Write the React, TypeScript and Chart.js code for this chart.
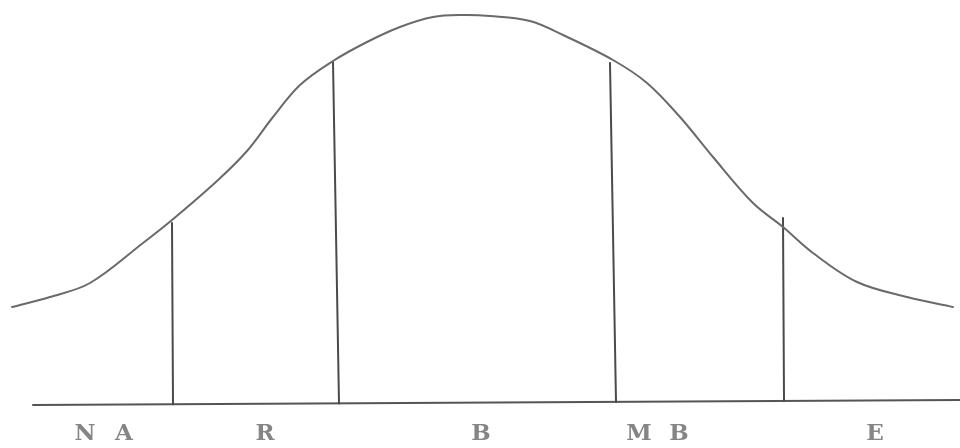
import React, { useEffect, useRef } from "react";
import { Chart, registerables } from "chart.js";

Chart.register(...registerables);

// Bell curve (position along scale, height above baseline)
const curveX = [12, 50, 90, 143, 172, 217, 247, 273, 300, 333, 367, 400, 433, 463, 490, 530, 563, 613, 647, 680, 713, 753, 783, 813, 857, 907, 953];
const curveY = [96, 106, 120, 160, 183, 222, 252, 286, 318, 342, 361, 376, 386, 388, 387, 382, 368, 343, 320, 286, 246, 200, 176, 150, 121, 106, 96];

// Dividers (top point and bottom point)
const dividerTopX = [172, 333, 610, 783];
const dividerTopY = [180, 341, 340, 185];
const dividerBottomX = [173, 339, 616, 784];
const dividerBottomY = [-1.2, -0.4, 1.1, 2.0];

// Baseline
const baselineX = [33, 960];
const baselineY = [-2, 3];

// Category labels below the baseline
const labelText = ["N", "A", "R", "B", "M", "B", "E"];
const labelX = [85, 124, 265, 481, 639, 679, 875];
const labelY = -31.5;

export default function App() {
  const ref = useRef<HTMLCanvasElement | null>(null);

  useEffect(() => {
    const canvas = ref.current;
    if (!canvas) return;

    const datasets: any[] = [];
    datasets.push({
      data: curveX.map((x, i) => ({ x, y: curveY[i] })),
      borderColor: "#6a6a6a",
      borderWidth: 2,
      pointRadius: 0,
      tension: 0.35,
      fill: false,
    });
    dividerTopX.forEach((x, i) => {
      datasets.push({
        data: [
          { x, y: dividerTopY[i] },
          { x: dividerBottomX[i], y: dividerBottomY[i] },
        ],
        borderColor: "#4a4a4a",
        borderWidth: 2,
        pointRadius: 0,
        tension: 0,
        fill: false,
      });
    });
    datasets.push({
      data: baselineX.map((x, i) => ({ x, y: baselineY[i] })),
      borderColor: "#555555",
      borderWidth: 2,
      pointRadius: 0,
      tension: 0,
      fill: false,
    });

    const labelPlugin = {
      id: "labels",
      afterDatasetsDraw(chart: any) {
        const { ctx, scales } = chart;
        ctx.save();
        ctx.font = "bold 23px 'DejaVu Serif', serif";
        ctx.fillStyle = "#858585";
        ctx.textAlign = "center";
        ctx.textBaseline = "middle";
        labelText.forEach((t, i) => {
          ctx.fillText(t, scales.x.getPixelForValue(labelX[i]), scales.y.getPixelForValue(labelY));
        });
        ctx.restore();
      },
    };

    const chart = new Chart(canvas, {
      type: "line",
      data: { datasets },
      options: {
        animation: false,
        responsive: true,
        maintainAspectRatio: false,
        layout: { padding: 0 },
        plugins: { legend: { display: false }, tooltip: { enabled: false } },
        scales: {
          x: { type: "linear", min: 0, max: 960, display: false },
          y: { type: "linear", min: -45, max: 403, display: false },
        },
        elements: { line: { borderCapStyle: "round" } },
      } as any,
      plugins: [labelPlugin],
    });
    return () => chart.destroy();
  }, []);

  return (
    <div style={{ position: "fixed", left: 0, top: 0, width: 960, height: 448, background: "#ffffff" }}>
      <canvas ref={ref} />
    </div>
  );
}
